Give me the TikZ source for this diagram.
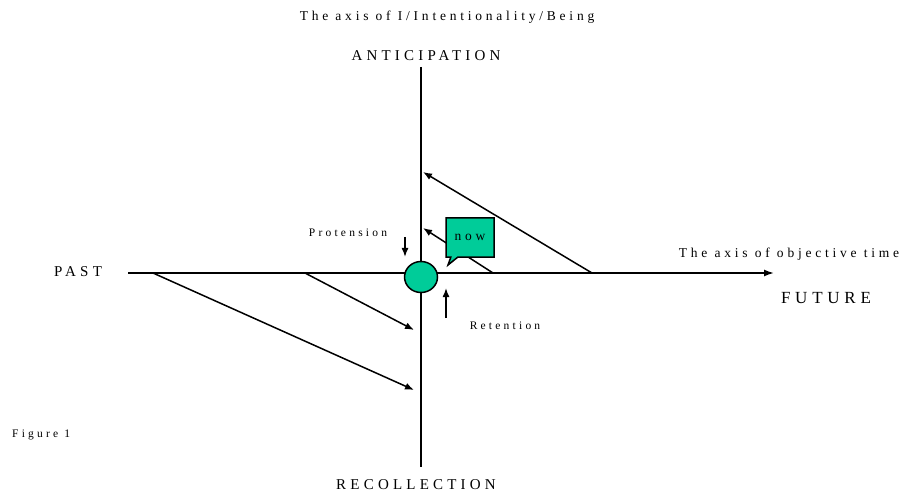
\documentclass[tikz,border=0pt]{standalone}
\usepackage{fontspec}
\setmainfont{Liberation Serif}[LetterSpace=28]
\usetikzlibrary{arrows.meta,shapes.geometric,shapes.callouts}
\definecolor{nowgreen}{HTML}{00CC99}
\tikzset{
  axisline/.style={line width=1.6pt},
  arr/.style={line width=1.5pt,-{Latex[length=9pt,width=7pt]}},
  lab/.style={font=\fontsize{13.5}{15}\selectfont,inner sep=0pt},
  caps/.style={font=\fontsize{15}{17}\selectfont,inner sep=0pt},
  bigcaps/.style={font=\fontsize{17}{19}\selectfont,inner sep=0pt},
  small/.style={font=\fontsize{11.5}{13}\selectfont,inner sep=0pt}
}
\begin{document}
\begin{tikzpicture}[x=1pt,y=-1pt]
\useasboundingbox (0,0) rectangle (904,494);
% axes
\coordinate (vtop) at (421,67);
\coordinate (vbot) at (421,467);
\coordinate (hleft) at (128,273);
\coordinate (hright) at (774,273);
\draw[axisline] (vtop) -- (vbot);
\draw[axisline,-{Latex[length=10pt,width=7pt]}] (hleft) -- (hright);
% diagonal arrows
\coordinate (p1) at (153,273);
\coordinate (p2) at (305,273);
\coordinate (f1) at (493,273);
\coordinate (f2) at (592,273);
\coordinate (r1) at (414,390);
\coordinate (r2) at (414,330);
\coordinate (a1) at (423,228);
\coordinate (a2) at (423,172);
\draw[arr] (p1) -- (r1);
\draw[arr] (p2) -- (r2);
\draw[arr] (f1) -- (a1);
\draw[arr] (f2) -- (a2);
% now circle
\node[ellipse,draw,fill=nowgreen,line width=1.5pt,minimum width=33pt,minimum height=31pt,inner sep=0pt] (nowc) at (421,277) {};
% callout
\node[rectangle callout,draw,fill=nowgreen,line width=1.5pt,minimum width=48pt,minimum height=39pt,inner sep=0pt,callout absolute pointer={(448,265)},font=\fontsize{13.5}{15}\selectfont] (nowbox) at (470,237.5) {now};
% small arrows
\coordinate (pt) at (405,237);
\coordinate (ph) at (405,257);
\coordinate (rt) at (446,318);
\coordinate (rh) at (446,288);
\draw[arr] (pt) -- (ph);
\draw[arr] (rt) -- (rh);
% labels
\node[lab] (tI) at (447,17) {The axis of I/Intentionality/Being};
\node[caps] (ant) at (426,56) {ANTICIPATION};
\node[caps] (rec) at (416,485) {RECOLLECTION};
\node[caps] (past) at (78,272) {PAST};
\node[bigcaps] (fut) at (826,298) {FUTURE};
\node[lab] (tO) at (789,254) {The axis of objective time};
\node[small] (prot) at (348,233) {Protension};
\node[small] (ret) at (505,326) {Retention};
\node[small,anchor=west] (fig) at (12,435) {Figure 1};
\end{tikzpicture}
\end{document}
